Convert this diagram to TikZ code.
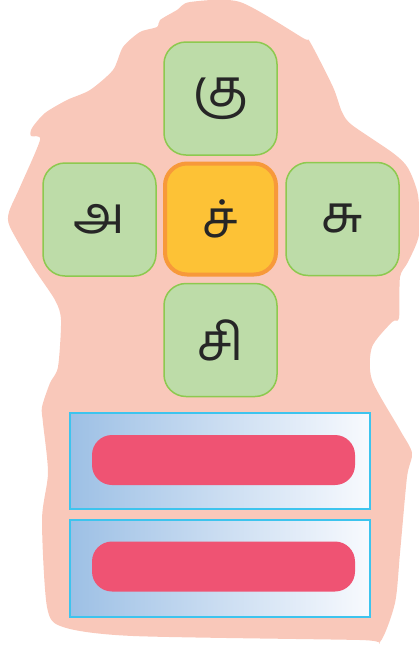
\documentclass[tikz,border=0pt]{standalone}
\usepackage{fontspec}
\newfontfamily\tamilfont[Script=Tamil]{Hind Madurai}
\definecolor{blobpink}{HTML}{F9C8BA}
\definecolor{leafgreen}{HTML}{BDDCA8}
\definecolor{leafedge}{HTML}{8DC94F}
\definecolor{sunfill}{HTML}{FDC236}
\definecolor{sunedge}{HTML}{F7993A}
\definecolor{panelblue}{HTML}{9DC0E5}
\definecolor{panelwhite}{HTML}{F8FAFE}
\definecolor{paneledge}{HTML}{3DC4EE}
\definecolor{barred}{HTML}{EF5373}
\tikzset{
  letterbox/.style={draw=leafedge,fill=leafgreen,line width=1.5pt,rounded corners=22pt,
    minimum size=113pt,inner sep=0pt,font=\tamilfont\fontsize{52}{52}\selectfont,text=black!85},
  centrebox/.style={letterbox,draw=sunedge,fill=sunfill,line width=4pt,minimum size=111pt},
  panel/.style={draw=paneledge,line width=1.8pt,left color=panelblue,right color=panelwhite,
    minimum width=300pt,minimum height=96pt,inner sep=0pt},
  bar/.style={fill=barred,rounded corners=20pt,minimum width=263pt,minimum height=50pt,inner sep=0pt}
}
\begin{document}
\begin{tikzpicture}[x=1pt,y=-1pt]
  \useasboundingbox (0,0) rectangle (419,646);
  % background blob
  \fill[blobpink] plot[smooth cycle,tension=0.45] coordinates {
    (190,2) (240,2) (303,38) (310,42) (333,87) (342,112) (352,125) (393,153)
    (408,168) (418,195) (419,235) (408,262) (400,277) (399,318) (392,322)
    (372,347) (372,380) (400,430) (412,453) (407,477) (400,553) (395,603)
    (380,642) (360,640) (133,636) (63,627) (47,607) (42,520) (48,473)
    (43,423) (42,407) (50,383) (58,367) (61,320) (55,300) (33,267)
    (10,227) (9,212) (20,187) (40,140) (31,136) (32,128) (45,113)
    (67,100) (90,90) (113,70) (123,47) (140,32) (157,27) (160,20) (177,10)};
  % letter cross
  \node[letterbox] (ku) at (220.5,98.5) {கு};
  \node[letterbox] (a) at (99.5,219.5) {அ};
  \node[centrebox] (c) at (220.5,219) {ச்};
  \node[letterbox] (cu) at (342.5,219) {சு};
  \node[letterbox] (ci) at (220.5,340) {சி};
  % answer panels
  \node[panel] (p1) at (220,461) {};
  \node[bar] (b1) at (223.5,460) {};
  \node[panel,minimum height=97pt] (p2) at (220,568.5) {};
  \node[bar] (b2) at (223.5,566.5) {};
\end{tikzpicture}
\end{document}
